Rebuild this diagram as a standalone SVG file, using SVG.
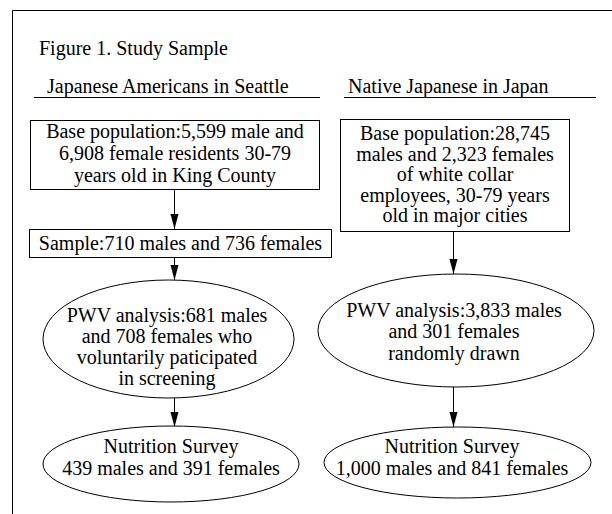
<svg xmlns="http://www.w3.org/2000/svg" width="612" height="514" viewBox="0 0 612 514">
<defs>
<style>
text{font-family:"Liberation Serif","Times New Roman",serif;font-size:20px;fill:#000}
.c{text-anchor:middle}
.shape{fill:#fff;stroke:#000;stroke-width:1}
.edge{stroke:#000;stroke-width:1;fill:none}
.rule{stroke:#000;stroke-width:1}
</style>
<marker id="ah" markerUnits="userSpaceOnUse" markerWidth="16" markerHeight="9" refX="15" refY="4" orient="auto">
<path d="M0,0 L15,4 L0,8 z" fill="#000"/>
</marker>
</defs>
<rect width="612" height="514" fill="#fff"/>
<polyline points="12.5,514 12.5,10.5 612,10.5" fill="none" stroke="#000" stroke-width="1"/>
<text x="39" y="55">Figure 1. Study Sample</text>
<g id="header-left">
<text x="47" y="93">Japanese Americans in Seattle</text>
<line class="rule" x1="34" y1="97.5" x2="320" y2="97.5"/>
</g>
<g id="header-right">
<text x="348" y="93">Native Japanese in Japan</text>
<line class="rule" x1="344" y1="97.5" x2="596" y2="97.5"/>
</g>
<g id="connectors">
<line class="edge" x1="174.5" y1="190" x2="174.5" y2="229" marker-end="url(#ah)"/>
<line class="edge" x1="174.5" y1="257" x2="174.5" y2="280" marker-end="url(#ah)"/>
<line class="edge" x1="174.5" y1="398" x2="174.5" y2="427" marker-end="url(#ah)"/>
<line class="edge" x1="453.5" y1="232" x2="453.5" y2="274" marker-end="url(#ah)"/>
<line class="edge" x1="453.5" y1="387" x2="453.5" y2="427" marker-end="url(#ah)"/>
</g>
<g id="base-seattle">
<rect class="shape" x="30.5" y="120.5" width="289" height="69"/>
<text class="c" x="175" y="138">Base population:5,599 male and</text>
<text class="c" x="175" y="160">6,908 female residents 30-79</text>
<text class="c" x="175" y="182">years old in King County</text>
</g>
<g id="base-japan">
<rect class="shape" x="340.5" y="119.5" width="229" height="112"/>
<text class="c" x="455" y="140">Base population:28,745</text>
<text class="c" x="455" y="160.5">males and 2,323 females</text>
<text class="c" x="455" y="181">of white collar</text>
<text class="c" x="455" y="201.5">employees, 30-79 years</text>
<text class="c" x="455" y="222">old in major cities</text>
</g>
<g id="sample-seattle">
<rect class="shape" x="29.5" y="229.5" width="302" height="28"/>
<text class="c" x="180.5" y="250">Sample:710 males and 736 females</text>
</g>
<g id="pwv-seattle">
<ellipse class="shape" cx="168.5" cy="339" rx="125.5" ry="59"/>
<text class="c" x="167" y="322">PWV analysis:681 males</text>
<text class="c" x="167" y="343">and 708 females who</text>
<text class="c" x="167" y="364">voluntarily paticipated</text>
<text class="c" x="167" y="385">in screening</text>
</g>
<g id="pwv-japan">
<ellipse class="shape" cx="456" cy="330.5" rx="138" ry="56.5"/>
<text class="c" x="454" y="317">PWV analysis:3,833 males</text>
<text class="c" x="454" y="338">and 301 females</text>
<text class="c" x="454" y="360">randomly drawn</text>
</g>
<g id="nutrition-seattle">
<ellipse class="shape" cx="171" cy="464" rx="128" ry="38"/>
<text class="c" x="171" y="453">Nutrition Survey</text>
<text class="c" x="171" y="475">439 males and 391 females</text>
</g>
<g id="nutrition-japan">
<ellipse class="shape" cx="457.5" cy="462.5" rx="133.5" ry="35.5"/>
<text class="c" x="452" y="453">Nutrition Survey</text>
<text class="c" x="452" y="475">1,000 males and 841 females</text>
</g>
</svg>
